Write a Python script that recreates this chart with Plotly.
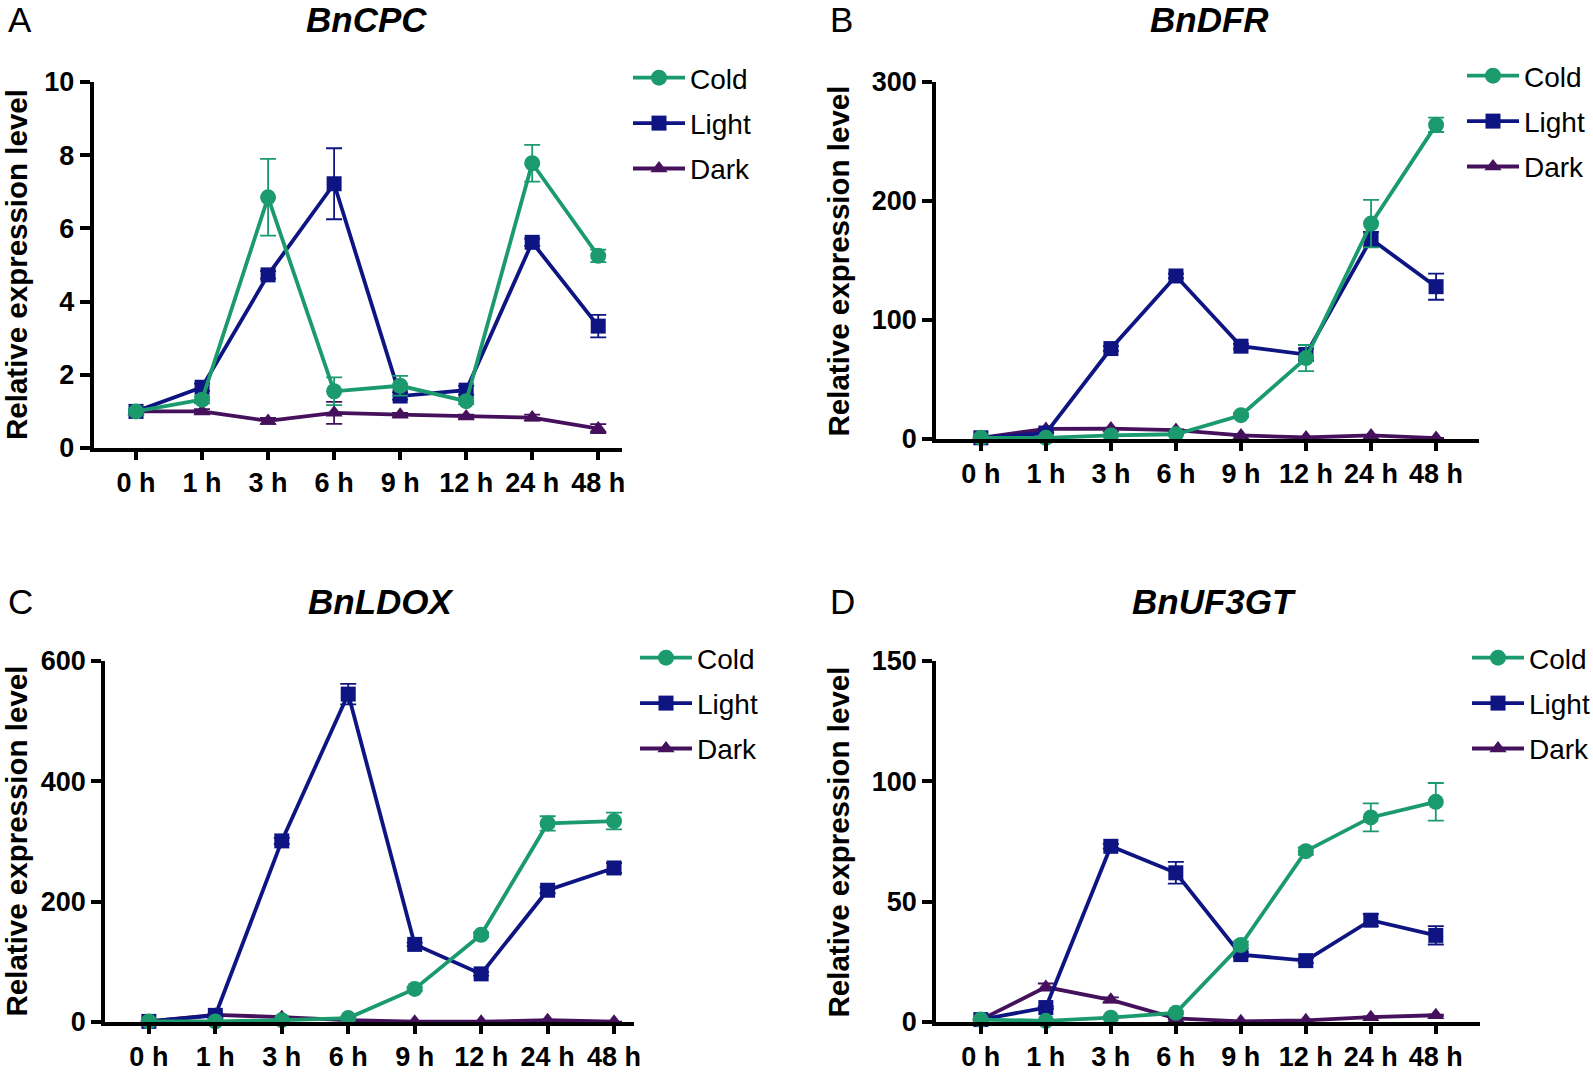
import plotly.graph_objects as go

W, H = 1593, 1074

times = ["0 h", "1 h", "3 h", "6 h", "9 h", "12 h", "24 h", "48 h"]

# BnCPC
cpc_cold = [1.0, 1.32, 6.85, 1.55, 1.70, 1.28, 7.78, 5.25]
cpc_cold_err = [0.05, 0.10, 1.05, 0.38, 0.27, 0.08, 0.50, 0.17]
cpc_light = [1.0, 1.66, 4.73, 7.22, 1.42, 1.58, 5.62, 3.33]
cpc_light_err = [0.05, 0.10, 0.10, 0.97, 0.10, 0.12, 0.10, 0.31]
cpc_dark = [1.0, 1.0, 0.74, 0.96, 0.91, 0.86, 0.83, 0.53]
cpc_dark_err = [0.03, 0.06, 0.08, 0.30, 0.05, 0.05, 0.08, 0.12]

# BnDFR
dfr_cold = [1, 1, 3, 4, 20, 68, 181, 264]
dfr_cold_err = [0.3, 0.3, 0.5, 0.5, 1.5, 11, 20, 6]
dfr_light = [1, 5, 76, 137, 78, 71, 168, 128]
dfr_light_err = [0.3, 0.5, 2, 2, 2, 5, 6, 11]
dfr_dark = [1, 8.5, 8.8, 7.5, 3, 1.3, 3, 0.8]
dfr_dark_err = [0.2, 0.5, 0.5, 0.5, 0.3, 0.2, 0.4, 0.2]

# BnLDOX
ldox_cold = [1, 1, 3, 6.5, 55, 145, 330, 334]
ldox_cold_err = [0.3, 0.3, 0.5, 1, 3, 4, 12, 14]
ldox_light = [1, 11, 301, 545, 129, 80, 219, 256]
ldox_light_err = [0.3, 1, 5, 17, 3, 3, 5, 8]
ldox_dark = [1, 12, 8, 3, 0.5, 0.5, 3, 0.5]
ldox_dark_err = [0.2, 1, 0.8, 0.4, 0.1, 0.1, 0.4, 0.1]

# BnUF3GT
uf_cold = [1, 0.5, 1.8, 3.8, 32, 71, 85, 91.5]
uf_cold_err = [0.3, 0.2, 0.3, 0.5, 1.5, 1.5, 5.8, 7.8]
uf_light = [1, 6, 73, 62, 28, 25.5, 42.3, 36]
uf_light_err = [0.3, 0.5, 1, 4.5, 1, 1, 2.5, 3.8]
uf_dark = [1, 14.5, 9.2, 1.5, 0.3, 0.7, 2, 2.8]
uf_dark_err = [0.1, 1.5, 1, 0.3, 0.1, 0.1, 0.3, 0.3]

colours = {"Cold": "#1b9a6e", "Light": "#0e1582", "Dark": "#45105c"}
symbols = {"Cold": "circle", "Light": "square", "Dark": "triangle-up"}
msize = {"Cold": 16, "Light": 15, "Dark": 15}
FONT = "Liberation Sans, Arial, sans-serif"

panels = [
    # letter, gene, series, y range, y ticks, x-domain px, y-domain px, x range, title centre px, legend (symbol centre x, first item y)
    ("A", "BnCPC", {"Cold": (cpc_cold, cpc_cold_err), "Light": (cpc_light, cpc_light_err), "Dark": (cpc_dark, cpc_dark_err)},
     [0, 10], [0, 2, 4, 6, 8, 10], (93.5, 622), (82, 448), [-0.644, 7.36], (366, 20), (654, 77)),
    ("B", "BnDFR", {"Cold": (dfr_cold, dfr_cold_err), "Light": (dfr_light, dfr_light_err), "Dark": (dfr_dark, dfr_dark_err)},
     [0, 300], [0, 100, 200, 300], (936, 1479), (82, 439), [-0.69, 7.66], (1209, 20), (1488, 75)),
    ("C", "BnLDOX", {"Cold": (ldox_cold, ldox_cold_err), "Light": (ldox_light, ldox_light_err), "Dark": (ldox_dark, ldox_dark_err)},
     [0, 600], [0, 200, 400, 600], (105, 634), (661, 1022), [-0.66, 7.3], (381, 601), (661, 657)),
    ("D", "BnUF3GT", {"Cold": (uf_cold, uf_cold_err), "Light": (uf_light, uf_light_err), "Dark": (uf_dark, uf_dark_err)},
     [0, 150], [0, 50, 100, 150], (936, 1480), (661, 1022), [-0.69, 7.68], (1214, 601), (1493, 657)),
]

fig = go.Figure()
annotations = []
layout = {}
rank = {"Cold": 1, "Light": 2, "Dark": 3}

for i, (letter, gene, series, yr, ticks, xd, yd, xr, tpos, lpos) in enumerate(panels, start=1):
    sfx = "" if i == 1 else str(i)
    lg = "legend" if i == 1 else f"legend{i}"
    for name in ["Dark", "Light", "Cold"]:
        vals, errs = series[name]
        fig.add_trace(go.Scatter(
            x=times, y=vals, name=name, mode="lines+markers",
            xaxis="x" + sfx, yaxis="y" + sfx, legend=lg,
            legendgroup=f"{letter}-{name}", legendrank=rank[name],
            line=dict(color=colours[name], width=3.8),
            marker=dict(symbol=symbols[name], size=msize[name], color=colours[name]),
            error_y=dict(type="data", array=errs, visible=True, color=colours[name], thickness=1.8, width=8),
            cliponaxis=False,
        ))

    x0, x1 = xd[0] / W, xd[1] / W
    y0, y1 = 1 - yd[1] / H, 1 - yd[0] / H
    axis_common = dict(showline=True, linecolor="black", linewidth=3.5, ticks="outside",
                       tickwidth=3.5, tickcolor="black", showgrid=False, zeroline=False,
                       tickfont=dict(family=FONT, size=27, color="black", weight="bold"))
    layout["xaxis" + sfx] = dict(domain=[x0, x1], range=xr, type="category", ticklen=8,
                                 anchor="y" + sfx, ticklabelstandoff=0, **axis_common)
    layout["yaxis" + sfx] = dict(domain=[y0, y1], range=yr, tickvals=ticks, ticklen=10,
                                 anchor="x" + sfx, **axis_common)

    layout[lg] = dict(x=(lpos[0] - 26) / W, y=1 - (lpos[1] - 24) / H, xanchor="left", yanchor="top",
                      font=dict(family=FONT, size=28, color="black"), bgcolor="rgba(0,0,0,0)",
                      tracegroupgap=6, itemwidth=52)

    left = 0 if letter in "AC" else 822 / W
    annotations.append(dict(text=letter, x=left + 6 / W, y=1 - tpos[1] / H, xref="paper", yref="paper",
                            xanchor="left", yanchor="middle", showarrow=False,
                            font=dict(family=FONT, size=35, color="black")))
    annotations.append(dict(text=f"<b><i>{gene}</i></b>", x=tpos[0] / W, y=1 - tpos[1] / H,
                            xref="paper", yref="paper", xanchor="center", yanchor="middle",
                            showarrow=False, font=dict(family=FONT, size=35, color="black")))
    annotations.append(dict(text="<b>Relative expression level</b>", textangle=-90,
                            x=left + 16 / W, y=(y0 + y1) / 2, xref="paper", yref="paper",
                            xanchor="center", yanchor="middle", showarrow=False,
                            font=dict(family=FONT, size=29.5, color="black")))

fig.update_layout(
    width=W, height=H, margin=dict(l=0, r=0, t=0, b=0, autoexpand=False),
    plot_bgcolor="white", paper_bgcolor="white",
    annotations=annotations, showlegend=True, **layout,
)

# the page's default body margin would shift the figure by 8 px
fig.write_html(
    "out.html",
    config={"displayModeBar": False},
    post_script="document.body.style.margin='0';document.body.style.overflow='hidden';",
)
